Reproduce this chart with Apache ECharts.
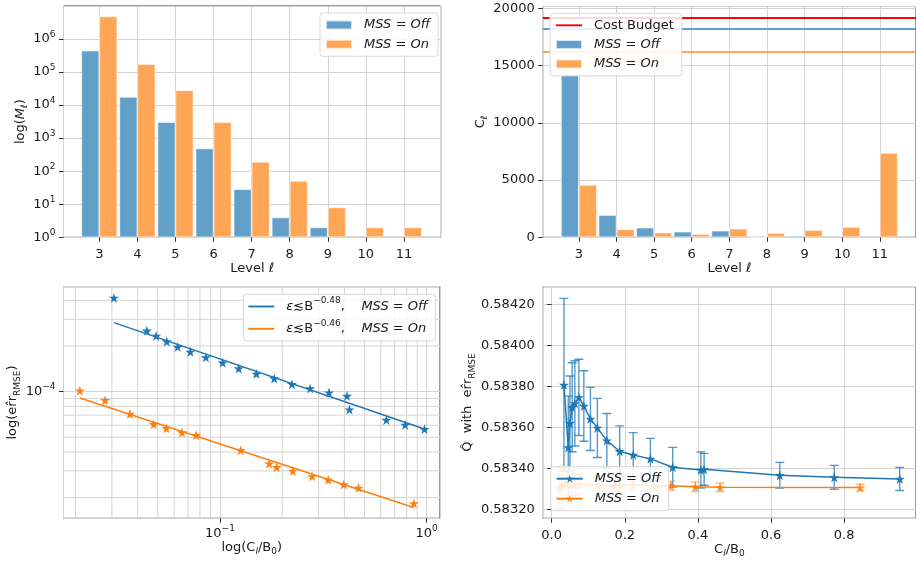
<!DOCTYPE html>
<html><head><meta charset="utf-8">
<script src="https://cdn.jsdelivr.net/npm/echarts@6/dist/echarts.min.js"></script>
<style>html,body{margin:0;padding:0;background:#fff}#c{width:916px;height:562px}</style>
</head><body><div id="c"></div>
<script>
// ---------------- data ----------------
const levels = [3, 4, 5, 6, 7, 8, 9, 10, 11];
const samplesOff = [440000, 17500, 3050, 487, 28.5, 4, 2, null, null];
const samplesOn = [4750000, 171000, 27800, 3050, 192, 51, 8, 2, 2];
const costOff = [14220, 1950, 845, 495, 582, 25, 145, null, null];
const costOn = [4572, 699, 408, 291, 757, 379, 641, 903, 7367];
const costBudget = 19200;
const totalCostOff = 18260;
const totalCostOn = 16170;

const ratioOff = [0.0307, 0.0443, 0.0491, 0.0553, 0.0624, 0.0719, 0.0855, 0.103, 0.1233, 0.150, 0.183, 0.223, 0.273, 0.337, 0.412, 0.423, 0.638, 0.787, 0.976];
const rmseOff = [4.15e-4, 2.52e-4, 2.33e-4, 2.14e-4, 1.97e-4, 1.83e-4, 1.68e-4, 1.55e-4, 1.42e-4, 1.31e-4, 1.22e-4, 1.12e-4, 1.05e-4, 9.85e-5, 9.36e-5, 7.61e-5, 6.50e-5, 6.03e-5, 5.65e-5];
const ratioOn = [0.0210, 0.0278, 0.0367, 0.0478, 0.0551, 0.0655, 0.0767, 0.126, 0.173, 0.188, 0.225, 0.279, 0.334, 0.397, 0.468, 0.867];
const rmseOn = [1.015e-4, 8.77e-5, 7.13e-5, 6.09e-5, 5.73e-5, 5.37e-5, 5.15e-5, 4.11e-5, 3.35e-5, 3.17e-5, 3.00e-5, 2.76e-5, 2.62e-5, 2.44e-5, 2.32e-5, 1.83e-5];
const fitOffX = [0.0307, 0.976];
const fitOffY = [2.85e-4, 5.67e-5];
const fitOnX = [0.0210, 0.867];
const fitOnY = [9.08e-5, 1.72e-5];

const qOffX = [0.0336, 0.0454, 0.0499, 0.0562, 0.0635, 0.0744, 0.088, 0.106, 0.125, 0.151, 0.186, 0.223, 0.270, 0.331, 0.408, 0.417, 0.624, 0.773, 0.952];
const qOffY = [0.583807, 0.583502, 0.583620, 0.583698, 0.583717, 0.583746, 0.583704, 0.583641, 0.583597, 0.583535, 0.583483, 0.583465, 0.583446, 0.583405, 0.583392, 0.583395, 0.583366, 0.583356, 0.583348];
const qOffErr = [0.000422, 0.000250, 0.000230, 0.000217, 0.000208, 0.000186, 0.000172, 0.000154, 0.000144, 0.000132, 0.000124, 0.000109, 0.000100, 0.000097, 0.000088, 0.000078, 0.000063, 0.000058, 0.000056];
const qOnX = [0.022, 0.029, 0.037, 0.048, 0.055, 0.065, 0.077, 0.126, 0.172, 0.187, 0.222, 0.280, 0.326, 0.393, 0.461, 0.844];
const qOnY = [0.583305, 0.583318, 0.583322, 0.583318, 0.583322, 0.583320, 0.583322, 0.583318, 0.583312, 0.583316, 0.583318, 0.583314, 0.583315, 0.583310, 0.583307, 0.583306];
const qOnErr = [0.000100, 0.000085, 0.000070, 0.000062, 0.000055, 0.000050, 0.000048, 0.000038, 0.000032, 0.000030, 0.000028, 0.000026, 0.000022, 0.000023, 0.000021, 0.000016];

// ---------------- style ----------------
const F = 'DejaVu Sans';
const FS = 13;
const FSS = 9;
const TXT = '#1a1a1a';
const BLUE = '#1f77b4', ORANGE = '#ff7f0e';
const BLUE_A = '#62a0ca', ORANGE_A = '#ffa556';
const GRIDC = '#d3d3d3';
const STAR = 'path://M50,0L61.23,34.55L97.55,34.55L68.17,55.9L79.39,90.45L50,69.1L20.61,90.45L31.83,55.9L2.45,34.55L38.77,34.55Z';
const LINE_ICON = 'path://M0,0L26,0L26,1.9L0,1.9Z';

const RICH = {
  n: {fontFamily: F, fontSize: FS, color: TXT, lineHeight: 18},
  i: {fontFamily: F, fontSize: FS, color: TXT, lineHeight: 18, fontStyle: 'italic'},
  sub: {fontFamily: F, fontSize: FSS, color: TXT, lineHeight: 10, verticalAlign: 'bottom'},
  subi: {fontFamily: F, fontSize: FSS, color: TXT, lineHeight: 10, verticalAlign: 'bottom', fontStyle: 'italic'},
  sup: {fontFamily: F, fontSize: FSS, color: TXT, lineHeight: 10, verticalAlign: 'top'},
  g: {width: 7}
};

function pow10Label(v) {
  const e = Math.round(Math.log10(v));
  return '{n|10}{sup|' + (e < 0 ? '\u2212' + (-e) : e) + '}';
}

function lbl(extra) {
  return Object.assign({color: TXT, fontFamily: F, fontSize: FS, margin: 8, rich: RICH}, extra);
}

function axisBase(extra) {
  return Object.assign({
    axisLine: {show: false},
    axisTick: {show: true, length: 4.5, lineStyle: {color: '#333', width: 1}},
    splitLine: {show: true, lineStyle: {color: GRIDC, width: 1}},
    nameTextStyle: {rich: RICH, fontFamily: F, fontSize: FS},
    nameLocation: 'middle'
  }, extra);
}

function errRender(color, opacity) {
  return function (params, api) {
    const x = api.value(0), y = api.value(1), e = api.value(2);
    const t = api.coord([x, y + e]);
    const b = api.coord([x, y - e]);
    const w = 4.5;
    const st = {stroke: color, lineWidth: 1.4, opacity: opacity};
    return {type: 'group', children: [
      {type: 'line', shape: {x1: t[0], y1: t[1], x2: b[0], y2: b[1]}, style: st},
      {type: 'line', shape: {x1: t[0] - w, y1: t[1], x2: t[0] + w, y2: t[1]}, style: st},
      {type: 'line', shape: {x1: b[0] - w, y1: b[1], x2: b[0] + w, y2: b[1]}, style: st}
    ]};
  };
}

function minorGridRender(params, api) {
  const p = api.coord([api.value(0), api.value(1)]);
  const cs = params.coordSys;
  const st = {stroke: GRIDC, lineWidth: 1};
  if (api.value(2) === 0) {
    return {type: 'line', shape: {x1: cs.x, y1: p[1], x2: cs.x + cs.width, y2: p[1]}, style: st};
  }
  return {type: 'line', shape: {x1: p[0], y1: cs.y, x2: p[0], y2: cs.y + cs.height}, style: st};
}

const legendNames = {
  m_off: '{g|}{i|MSS = Off}', m_on: '{g|}{i|MSS = On}',
  cost_budget: '{g|}{n|Cost Budget}', c_off: '{g|}{i|MSS = Off}', c_on: '{g|}{i|MSS = On}',
  fit_off: '{g|}{i|\u03b5}{n|\u2272B}{sup|\u22120.48}{n|,    }{i|MSS = Off}',
  fit_on: '{g|}{i|\u03b5}{n|\u2272B}{sup|\u22120.46}{n|,    }{i|MSS = On}',
  q_off: '{g|}{i|MSS = Off}', q_on: '{g|}{i|MSS = On}'
};
function legendBase(extra) {
  return Object.assign({
    orient: 'vertical', selectedMode: false, z: 10,
    itemWidth: 26, itemHeight: 9,
    borderColor: '#d8d8d8', borderWidth: 1, borderRadius: 3,
    backgroundColor: 'rgba(255,255,255,0.85)',
    formatter: n => legendNames[n],
    textStyle: {rich: RICH, fontFamily: F, fontSize: FS, lineHeight: 18}
  }, extra);
}

const numLabel = v => '{n|' + v + '}';

// minor grid positions for the log-log panel
const minorY = [], minorX = [];
[1e-5, 1e-4].forEach(d => { for (let k = 2; k <= 9; k++) minorY.push(k * d); });
[0.01, 0.1].forEach(d => { for (let k = 2; k <= 9; k++) minorX.push(k * d); });

const option = {
  animation: false,
  textStyle: {fontFamily: F, fontSize: FS},
  grid: [
    {left: 63.5, top: 6, width: 377.2, height: 231.3, show: true, borderColor: '#333', borderWidth: 1},
    {left: 542.7, top: 6.5, width: 377.2, height: 230.8, show: true, borderColor: '#333', borderWidth: 1},
    {left: 63.5, top: 286.7, width: 376.5, height: 231.6, show: true, borderColor: '#333', borderWidth: 1},
    {left: 542.7, top: 286.7, width: 375.2, height: 231.6, show: true, borderColor: '#333', borderWidth: 1}
  ],
  xAxis: [
    axisBase({gridIndex: 0, type: 'value', min: 2.06, max: 11.965, splitNumber: 10,
      name: '{n|Level }{i|\u2113}', nameGap: 21,
      axisLabel: lbl({showMinLabel: false, showMaxLabel: false, formatter: numLabel})}),
    axisBase({gridIndex: 1, type: 'value', min: 2.037, max: 11.963, splitNumber: 10,
      name: '{n|Level }{i|\u2113}', nameGap: 21,
      axisLabel: lbl({showMinLabel: false, showMaxLabel: false, formatter: numLabel})}),
    axisBase({gridIndex: 2, type: 'log', logBase: 10, min: 0.0175, max: 1.16,
      name: '{n|log(C}{subi|l}{n|/B}{sub|0}{n|)}', nameGap: 20,
      axisLabel: lbl({margin: 6, showMinLabel: false, showMaxLabel: false, formatter: pow10Label})}),
    axisBase({gridIndex: 3, type: 'value', min: -0.0245, max: 0.9965, splitNumber: 5,
      name: '{n|C}{subi|l}{n|/B}{sub|0}', nameGap: 20,
      axisLabel: lbl({showMinLabel: false, showMaxLabel: false, formatter: v => numLabel(v.toFixed(1))})})
  ],
  yAxis: [
    axisBase({gridIndex: 0, type: 'log', logBase: 10, min: 1, max: 9.8e6,
      name: '{n|log(}{i|M}{subi|\u2113}{n|)}', nameGap: 24, nameRotate: 90,
      axisLabel: lbl({showMaxLabel: false, formatter: pow10Label})}),
    axisBase({gridIndex: 1, type: 'value', min: 0, max: 20160, interval: 5000,
      name: '{n|C}{subi|\u2113}', nameGap: 43, nameRotate: 90,
      axisLabel: lbl({showMaxLabel: false, formatter: v => numLabel(String(v))})}),
    axisBase({gridIndex: 2, type: 'log', logBase: 10, min: 1.46e-5, max: 4.92e-4,
      name: '{n|log(er\u0302r}{sub|RMSE}{n|)}', nameGap: 31, nameRotate: 90,
      axisLabel: lbl({showMinLabel: false, showMaxLabel: false, formatter: pow10Label})}),
    axisBase({gridIndex: 3, type: 'value', min: 0.583156, max: 0.584286, splitNumber: 5,
      name: '{n|Q\u0302  with  er\u0302r}{sub|RMSE}', nameGap: 48, nameRotate: 90,
      axisLabel: lbl({showMinLabel: false, showMaxLabel: false, formatter: v => numLabel(v.toFixed(5))})})
  ],
  legend: [
    legendBase({left: 320, top: 13, padding: [3, 8, 3, 5], itemGap: 1.3,
      data: [{name: 'm_off', icon: 'rect'}, {name: 'm_on', icon: 'rect'}]}),
    legendBase({left: 550, top: 13.3, padding: [3, 8, 3, 5], itemGap: 1.3,
      data: [{name: 'cost_budget', icon: LINE_ICON}, {name: 'c_off', icon: 'rect'}, {name: 'c_on', icon: 'rect'}]}),
    legendBase({left: 243.3, top: 294.3, padding: [2.2, 8, 2.2, 5], itemGap: 2.3,
      textStyle: {fontFamily: F, fontSize: FS, lineHeight: 20, rich: Object.assign({}, RICH, {n: Object.assign({}, RICH.n, {lineHeight: 20}), i: Object.assign({}, RICH.i, {lineHeight: 20})})},
      data: [{name: 'fit_off', icon: LINE_ICON}, {name: 'fit_on', icon: LINE_ICON}]}),
    legendBase({left: 550.7, top: 466.7, padding: [3, 8, 3, 5], itemGap: 2, itemHeight: 10,
      data: [{name: 'q_off'}, {name: 'q_on'}]})
  ],
  series: [
    // ---- panel 1 ----
    {type: 'bar', name: 'm_off', xAxisIndex: 0, yAxisIndex: 0, barWidth: 18, barGap: '0%',
      itemStyle: {color: BLUE_A, borderColor: 'rgba(255,255,255,0.7)', borderWidth: 0.8},
      data: levels.map((l, i) => [l, samplesOff[i]]).filter(d => d[1] != null)},
    {type: 'bar', name: 'm_on', xAxisIndex: 0, yAxisIndex: 0, barWidth: 18, barGap: '0%',
      itemStyle: {color: ORANGE_A, borderColor: 'rgba(255,255,255,0.7)', borderWidth: 0.8},
      data: levels.map((l, i) => [l, samplesOn[i]]).filter(d => d[1] != null)},
    // ---- panel 2 ----
    {type: 'line', name: 'cost_budget', xAxisIndex: 1, yAxisIndex: 1, data: [], symbol: 'none',
      lineStyle: {color: '#ff0000', width: 1.8}, itemStyle: {color: '#ff0000'}},
    {type: 'bar', name: 'c_off', xAxisIndex: 1, yAxisIndex: 1, barWidth: 18, barGap: '0%',
      itemStyle: {color: BLUE_A, borderColor: 'rgba(255,255,255,0.7)', borderWidth: 0.8},
      data: levels.map((l, i) => [l, costOff[i]]).filter(d => d[1] != null),
      markLine: {silent: true, symbol: 'none', label: {show: false}, z: 3,
        data: [
          {yAxis: costBudget, lineStyle: {color: '#ff0000', width: 1.8, type: 'solid'}},
          {yAxis: totalCostOff, lineStyle: {color: BLUE_A, width: 1.8, type: 'solid'}},
          {yAxis: totalCostOn, lineStyle: {color: ORANGE_A, width: 1.8, type: 'solid'}}
        ]}},
    {type: 'bar', name: 'c_on', xAxisIndex: 1, yAxisIndex: 1, barWidth: 18, barGap: '0%',
      itemStyle: {color: ORANGE_A, borderColor: 'rgba(255,255,255,0.7)', borderWidth: 0.8},
      data: levels.map((l, i) => [l, costOn[i]]).filter(d => d[1] != null)},
    // ---- panel 3 ----
    {type: 'custom', name: 'minor_grid', xAxisIndex: 2, yAxisIndex: 2, z: 1, silent: true, clip: true,
      renderItem: minorGridRender, encode: {x: 0, y: 1},
      data: minorY.filter(v => v > 1.46e-5 && v < 4.92e-4).map(v => [0.1, v, 0])
        .concat(minorX.filter(v => v > 0.0175 && v < 1.16).map(v => [v, 1e-4, 1]))},
    {type: 'line', name: 'fit_off', xAxisIndex: 2, yAxisIndex: 2, symbol: 'none', z: 3,
      lineStyle: {color: BLUE, width: 1.5}, itemStyle: {color: BLUE},
      data: fitOffX.map((x, i) => [x, fitOffY[i]])},
    {type: 'line', name: 'fit_on', xAxisIndex: 2, yAxisIndex: 2, symbol: 'none', z: 3,
      lineStyle: {color: ORANGE, width: 1.5}, itemStyle: {color: ORANGE},
      data: fitOnX.map((x, i) => [x, fitOnY[i]])},
    {type: 'scatter', name: 'pts_off', xAxisIndex: 2, yAxisIndex: 2, symbol: STAR, symbolSize: 10, z: 4,
      itemStyle: {color: BLUE, opacity: 1}, data: ratioOff.map((x, i) => [x, rmseOff[i]])},
    {type: 'scatter', name: 'pts_on', xAxisIndex: 2, yAxisIndex: 2, symbol: STAR, symbolSize: 10, z: 4,
      itemStyle: {color: ORANGE, opacity: 1}, data: ratioOn.map((x, i) => [x, rmseOn[i]])},
    // ---- panel 4 ----
    {type: 'custom', name: 'q_off_err', xAxisIndex: 3, yAxisIndex: 3, z: 2, clip: true,
      renderItem: errRender(BLUE, 0.75), encode: {x: 0, y: 1},
      data: qOffX.map((x, i) => [x, qOffY[i], qOffErr[i]])},
    {type: 'custom', name: 'q_on_err', xAxisIndex: 3, yAxisIndex: 3, z: 2, clip: true,
      renderItem: errRender(ORANGE, 0.5), encode: {x: 0, y: 1},
      data: qOnX.map((x, i) => [x, qOnY[i], qOnErr[i]])},
    {type: 'line', name: 'q_on', xAxisIndex: 3, yAxisIndex: 3, z: 3,
      symbol: STAR, symbolSize: 10, showAllSymbol: true,
      lineStyle: {color: ORANGE, width: 1.5}, itemStyle: {color: ORANGE, opacity: 0.85},
      data: qOnX.map((x, i) => [x, qOnY[i]])},
    {type: 'line', name: 'q_off', xAxisIndex: 3, yAxisIndex: 3, z: 4,
      symbol: STAR, symbolSize: 10, showAllSymbol: true,
      lineStyle: {color: BLUE, width: 1.5}, itemStyle: {color: BLUE},
      data: qOffX.map((x, i) => [x, qOffY[i]])}
  ]
};

const chart = echarts.init(document.getElementById('c'), null, {renderer: 'canvas'});
chart.setOption(option);
</script></body></html>
